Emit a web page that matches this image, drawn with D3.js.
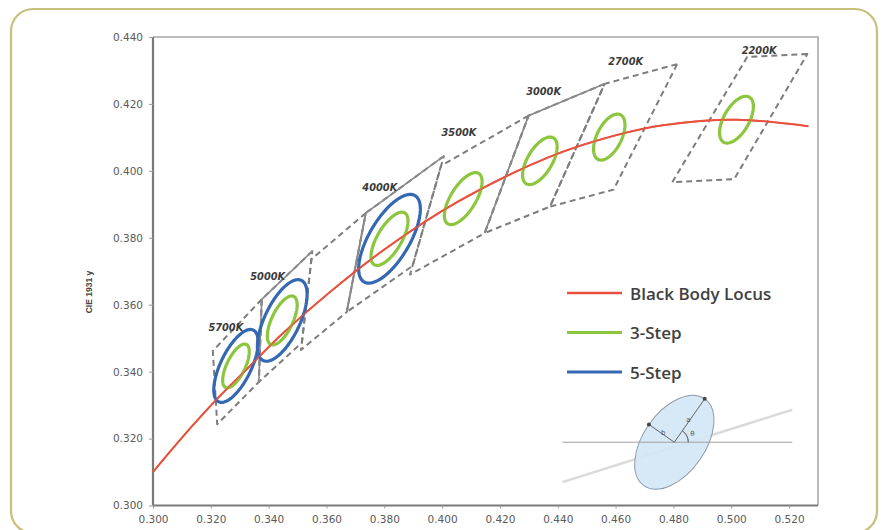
<!DOCTYPE html>
<html>
<head>
<meta charset="utf-8">
<script src="https://cdn.jsdelivr.net/npm/d3@7"></script>
<style>
  html, body { margin: 0; padding: 0; background: #ffffff; }
  svg { display: block; }
</style>
</head>
<body>
<svg id="chart" width="882" height="530"></svg>
<script>
// ---- Black body (Planckian) locus in CIE 1931 x,y ----
const locusX = [0.3000, 0.3064, 0.3135, 0.3221, 0.3325, 0.3451, 0.3608, 0.3805, 0.4053, 0.4369, 0.4599, 0.4770, 0.5018, 0.5267];
const locusY = [0.3100, 0.3166, 0.3237, 0.3318, 0.3408, 0.3516, 0.3635, 0.3768, 0.3907, 0.4041, 0.4106, 0.4137, 0.4153, 0.4133];

// ---- Nominal CCT quadrangles: corners top-right, top-left, bottom-left, bottom-right ----
const quadNames = ["5700K", "5000K", "4500K", "4000K", "3500K", "3000K", "2700K", "2200K"];
const quadLabels = ["5700K", "5000K", "", "4000K", "3500K", "3000K", "2700K", "2200K"];
const quadX = [
  [0.3376, 0.3207, 0.3222, 0.3366],
  [0.3551, 0.3376, 0.3366, 0.3515],
  [0.3736, 0.3548, 0.3512, 0.3670],
  [0.4006, 0.3736, 0.3670, 0.3898],
  [0.4299, 0.3996, 0.3889, 0.4147],
  [0.4562, 0.4299, 0.4147, 0.4373],
  [0.4813, 0.4562, 0.4373, 0.4593],
  [0.5263, 0.5055, 0.4796, 0.5010]
];
const quadY = [
  [0.3616, 0.3462, 0.3243, 0.3369],
  [0.3760, 0.3616, 0.3369, 0.3487],
  [0.3874, 0.3736, 0.3465, 0.3578],
  [0.4044, 0.3874, 0.3578, 0.3716],
  [0.4165, 0.4015, 0.3690, 0.3814],
  [0.4260, 0.4165, 0.3814, 0.3893],
  [0.4319, 0.4260, 0.3893, 0.3944],
  [0.4349, 0.4340, 0.3966, 0.3975]
];
// quadrangles whose top and left edges are drawn as solid lines
const solidEdgeQuads = ["5000K", "4000K", "3000K"];

// ---- MacAdam ellipses (1-step size): centre, semi-axes, rotation in degrees ----
const ellipseNames = ["5700K", "5000K", "4000K", "3500K", "3000K", "2700K", "2200K"];
const ellipseCx = [0.3287, 0.3447, 0.3818, 0.4073, 0.4338, 0.4578, 0.5018];
const ellipseCy = [0.3417, 0.3553, 0.3797, 0.3917, 0.4030, 0.4101, 0.4153];
const ellipseA = [0.00246, 0.00274, 0.00313, 0.00309, 0.00278, 0.00258, 0.00270];
const ellipseB = [0.00103, 0.00118, 0.00134, 0.00138, 0.00136, 0.00137, 0.00140];
const ellipseTheta = [59.37, 59.62, 54.00, 52.58, 53.13, 57.28, 54.00];
const threeStep = ["5700K", "5000K", "4000K", "3500K", "3000K", "2700K", "2200K"];
const fiveStep = ["5700K", "5000K", "4000K"];

// ---- Axes ----
const xTicks = [0.300, 0.320, 0.340, 0.360, 0.380, 0.400, 0.420, 0.440, 0.460, 0.480, 0.500, 0.520];
const yTicks = [0.300, 0.320, 0.340, 0.360, 0.380, 0.400, 0.420, 0.440];
const yTitle = "CIE 1931 y";

// ---- Legend ----
const legendNames = ["Black Body Locus", "3-Step", "5-Step"];

// ---- Layout & style ----
const colors = { locus: "#e8513d", three: "#8cc63f", five: "#3468b2", quad: "#7d7d7d" };
const plot = { left: 153, right: 818, top: 37, bottom: 505.5 };
const labelOffsets = [[13, -23], [6, -23], [0, 0], [14, -26], [18, -33], [15, -24], [21, -22], [12, -7]];

const svg = d3.select("#chart");

// outer rounded frame
svg.append("rect")
  .attr("x", 11).attr("y", 9).attr("width", 866).attr("height", 524)
  .attr("rx", 22).attr("ry", 22)
  .attr("fill", "#ffffff").attr("stroke", "#c8bf7a").attr("stroke-width", 2.2);

const x = d3.scaleLinear().domain([0.300, 0.530]).range([plot.left, plot.right]);
const y = d3.scaleLinear().domain([0.300, 0.440]).range([plot.bottom, plot.top]);

// plot frame (top/right lighter)
svg.append("path")
  .attr("d", `M${plot.left},${plot.top}H${plot.right}V${plot.bottom}`)
  .attr("fill", "none").attr("stroke", "#a8a8a8").attr("stroke-width", 1.6);

// axes
const yAxis = svg.append("g")
  .attr("transform", `translate(${plot.left},0)`)
  .call(d3.axisLeft(y).tickValues(yTicks).tickFormat(d3.format(".3f")).tickSize(4).tickPadding(6));
const xAxis = svg.append("g")
  .attr("transform", `translate(0,${plot.bottom})`)
  .call(d3.axisBottom(x).tickValues(xTicks).tickFormat(d3.format(".3f")).tickSize(3).tickPadding(7));
[yAxis, xAxis].forEach(g => {
  g.select(".domain").attr("stroke", "#7a7a7a").attr("stroke-width", 2.2);
  g.selectAll(".tick line").attr("stroke", "#9a9a9a").attr("stroke-width", 1);
  g.selectAll(".tick text")
    .attr("font-family", "DejaVu Sans, Verdana, sans-serif")
    .attr("font-size", 10.5).attr("fill", "#5a5a5a");
});
xAxis.select(".domain").attr("d", `M${plot.left},0H${plot.right}`);
yAxis.select(".domain").attr("d", `M0,${plot.bottom}V${plot.top}`);

svg.append("text")
  .attr("transform", `translate(89,292) rotate(-90)`)
  .attr("text-anchor", "middle").attr("dominant-baseline", "central")
  .attr("font-family", "Liberation Sans, Arial, sans-serif")
  .attr("font-weight", "bold").attr("font-size", 8.5).attr("fill", "#444")
  .text(yTitle);

// ---- quadrangles ----
const quads = quadNames.map((name, i) => ({
  name, label: quadLabels[i], off: labelOffsets[i],
  pts: quadX[i].map((qx, k) => [x(qx), y(quadY[i][k])])
}));
const gQuad = svg.append("g");
gQuad.selectAll("path.quad").data(quads).join("path")
  .attr("class", "quad")
  .attr("d", d => d3.line()(d.pts) + "Z")
  .attr("fill", "none").attr("stroke", colors.quad)
  .attr("stroke-width", 2).attr("stroke-dasharray", "6,4").attr("stroke-linejoin", "round");
// solid top + left edges
gQuad.selectAll("path.solid").data(quads.filter(d => solidEdgeQuads.includes(d.name))).join("path")
  .attr("class", "solid")
  .attr("d", d => d3.line()([d.pts[0], d.pts[1], d.pts[2]]))
  .attr("fill", "none").attr("stroke", "#8a8a8a").attr("stroke-width", 1.6);

// ---- black body locus ----
const locus = locusX.map((lx, i) => [lx, locusY[i]]);
const locusLine = d3.line().x(d => x(d[0])).y(d => y(d[1])).curve(d3.curveCatmullRom);
svg.append("path")
  .datum(locus)
  .attr("d", locusLine)
  .attr("fill", "none").attr("stroke", colors.locus).attr("stroke-width", 2);

// ---- MacAdam ellipses ----
function ellipsePath(i, steps) {
  const a = ellipseA[i] * steps, b = ellipseB[i] * steps;
  const th = ellipseTheta[i] * Math.PI / 180;
  const pts = d3.range(0, 96).map(k => {
    const t = k / 96 * 2 * Math.PI;
    const dx = a * Math.cos(t) * Math.cos(th) - b * Math.sin(t) * Math.sin(th);
    const dy = a * Math.cos(t) * Math.sin(th) + b * Math.sin(t) * Math.cos(th);
    return [x(ellipseCx[i] + dx), y(ellipseCy[i] + dy)];
  });
  return d3.line().curve(d3.curveLinearClosed)(pts);
}
const gEll = svg.append("g");
gEll.selectAll("path.five").data(fiveStep).join("path")
  .attr("class", "five")
  .attr("d", n => ellipsePath(ellipseNames.indexOf(n), 5))
  .attr("fill", "none").attr("stroke", colors.five).attr("stroke-width", 3.2);
gEll.selectAll("path.three").data(threeStep).join("path")
  .attr("class", "three")
  .attr("d", n => ellipsePath(ellipseNames.indexOf(n), 3))
  .attr("fill", "none").attr("stroke", colors.three).attr("stroke-width", 3.2);

// locus drawn again faintly over the ellipses
svg.append("path")
  .datum(locus)
  .attr("d", locusLine)
  .attr("fill", "none").attr("stroke", colors.locus).attr("stroke-width", 1.6).attr("opacity", 0.8);

// quadrangle labels
svg.append("g").selectAll("text").data(quads.filter(d => d.label)).join("text")
  .attr("x", d => d.pts[1][0] + d.off[0])
  .attr("y", d => d.pts[1][1] + d.off[1])
  .attr("text-anchor", "middle").attr("dominant-baseline", "central")
  .attr("font-family", "DejaVu Sans, sans-serif")
  .attr("font-weight", "bold").attr("font-style", "italic")
  .attr("font-size", 9.8).attr("fill", "#3a3a3a")
  .text(d => d.label);

// ---- legend ----
const legendColors = [colors.locus, colors.three, colors.five];
const legendWidths = [2.4, 2.8, 3.2];
const lg = svg.append("g").attr("transform", "translate(567,293)");
const items = lg.selectAll("g").data(legendNames).join("g")
  .attr("transform", (d, i) => `translate(0,${i * 39.5})`);
items.append("line").attr("x1", 0).attr("x2", 55).attr("y1", 0).attr("y2", 0)
  .attr("stroke", (d, i) => legendColors[i]).attr("stroke-width", (d, i) => legendWidths[i]);
items.append("text").attr("x", 63).attr("y", 0).attr("dominant-baseline", "central")
  .attr("font-family", "Open Sans, sans-serif").attr("font-weight", 600)
  .attr("font-size", 17).attr("fill", "#404040")
  .text(d => d);

// ---- inset: ellipse geometry sketch ----
const inset = { cx: x(0.4803), cy: y(0.3189), a: 53, b: 31, rot: -55 };
const gi = svg.append("g");
gi.append("line")
  .attr("x1", x(0.4416)).attr("y1", y(0.3070)).attr("x2", x(0.5211)).attr("y2", y(0.3286))
  .attr("stroke", "#dadada").attr("stroke-width", 2.5);
gi.append("ellipse")
  .attr("transform", `translate(${inset.cx},${inset.cy}) rotate(${inset.rot})`)
  .attr("rx", inset.a).attr("ry", inset.b)
  .attr("fill", "#d3e7f6").attr("fill-opacity", 0.9)
  .attr("stroke", "#8d9aa6").attr("stroke-width", 1);
gi.append("line")
  .attr("x1", x(0.4416)).attr("y1", inset.cy).attr("x2", x(0.5211)).attr("y2", inset.cy)
  .attr("stroke", "#a0a0a0").attr("stroke-width", 1.2);
const r = inset.rot * Math.PI / 180;
const pa = [inset.cx + inset.a * Math.cos(r), inset.cy + inset.a * Math.sin(r)];
const pb = [inset.cx + inset.b * Math.cos(r - Math.PI / 2), inset.cy + inset.b * Math.sin(r - Math.PI / 2)];
[pa, pb].forEach(p => {
  gi.append("line").attr("x1", inset.cx).attr("y1", inset.cy).attr("x2", p[0]).attr("y2", p[1])
    .attr("stroke", "#555").attr("stroke-width", 0.9);
  gi.append("circle").attr("cx", p[0]).attr("cy", p[1]).attr("r", 2).attr("fill", "#444");
});
gi.append("path")
  .attr("d", d3.arc().innerRadius(14).outerRadius(14).startAngle(Math.PI / 2 + r).endAngle(Math.PI / 2)())
  .attr("transform", `translate(${inset.cx},${inset.cy})`)
  .attr("fill", "none").attr("stroke", "#666").attr("stroke-width", 0.8);
const insetText = [["a", 14, -22], ["b", -11, -9], ["\u03b8", 18, -8]];
gi.selectAll("text").data(insetText).join("text")
  .attr("x", d => inset.cx + d[1]).attr("y", d => inset.cy + d[2])
  .attr("text-anchor", "middle").attr("dominant-baseline", "central")
  .attr("font-family", "DejaVu Sans, sans-serif").attr("font-size", 7).attr("fill", "#555")
  .text(d => d[0]);
</script>
</body>
</html>
